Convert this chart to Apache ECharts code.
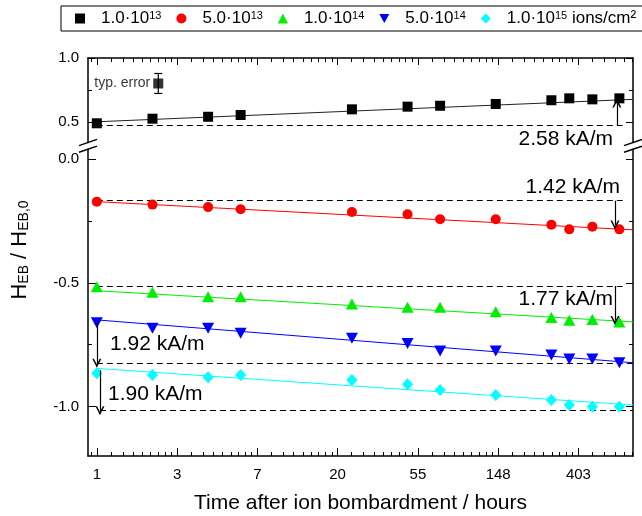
<!DOCTYPE html>
<html>
<head>
<meta charset="utf-8">
<script src="https://cdn.jsdelivr.net/npm/echarts@6/dist/echarts.min.js"></script>
<style>
html, body { margin: 0; padding: 0; background: #fff; }
#chart { width: 642px; height: 516px; }
</style>
</head>
<body>
<div id="chart"></div>
<script>
// measurement times (hours after ion bombardment)
var hours = [1, 2, 4, 6, 24, 48, 72, 144, 288, 360, 480, 672];

// H_EB / H_EB,0 for each fluence
var hEb1e13 = [0.490, 0.526, 0.541, 0.555, 0.599, 0.620, 0.627, 0.641, 0.670, 0.685, 0.677, 0.685];
var hEb5e13 = [-0.172, -0.184, -0.194, -0.203, -0.214, -0.223, -0.243, -0.243, -0.265, -0.284, -0.273, -0.284];
var hEb1e14 = [-0.516, -0.538, -0.556, -0.556, -0.586, -0.599, -0.599, -0.617, -0.640, -0.651, -0.648, -0.658];
var hEb5e14 = [-0.661, -0.684, -0.684, -0.704, -0.724, -0.745, -0.776, -0.776, -0.792, -0.808, -0.808, -0.823];
var hEb1e15 = [-0.866, -0.873, -0.882, -0.873, -0.893, -0.910, -0.933, -0.953, -0.974, -0.994, -1.001, -1.001];

// fit lines (start / end)
var fitHours = [1, 796];
var fit1e13 = [0.502, 0.677];
var fit5e13 = [-0.172, -0.286];
var fit1e14 = [-0.532, -0.658];
var fit5e14 = [-0.650, -0.823];
var fit1e15 = [-0.846, -0.994];

// dashed reference levels and shift arrows
var refLevels = [0.477, -0.168, -0.513, -0.825, -1.017];
var refStartHours = [1, 1, 1, 1, 1.04];
var refEndHours = [700, 700, 700, 796, 796];
var arrowHours = [651, 636, 636, 1, 1.04];
var arrowFrom = [0.477, -0.168, -0.513, -0.663, -0.853];
var arrowTo = [0.648, -0.266, -0.652, -0.825, -1.017];
var shiftLabels = ['2.58 kA/m', '1.42 kA/m', '1.77 kA/m', '1.92 kA/m', '1.90 kA/m'];

// typical error
var typErrHours = 2.15;
var typErrValue = 0.801;
var typErrHalf = 0.078;

var seriesNames = ['1.0e13', '5.0e13', '1.0e14', '5.0e14', '1.0e15'];
var legendLabels = ['1.0·10{sup|13}', '5.0·10{sup|13}', '1.0·10{sup|14}', '5.0·10{sup|14}', '1.0·10{sup|15} ions/cm²'];
var colors = ['#000000', '#ff0000', '#00ee00', '#0000ff', '#00ffff'];
var symbols = ['rect', 'circle', 'triangle', 'path://M0,0L10,0L5,9Z', 'diamond'];
var symbolSizes = [10, 10, [12, 11], [12, 11], [11, 12]];

// x axis (natural log of hours)
var xTickLabels = ['1', '3', '7', '20', '55', '148', '403'];
var xMajor = [0, 1, 2, 3, 4, 5, 6];
var xMin = -0.11, xMax = 6.68;
var upperYMajor = [0.5, 1.0], upperYMinor = [0.75];
var lowerYMajor = [0, -0.5, -1.0], lowerYMinor = [-0.25, -0.75];

var FONT = '"Liberation Sans", Arial, sans-serif';

// origin-like minor ticks: 8 linear subdivisions between e^n and e^(n+1)
var xMinor = [];
for (var n = -1; n < 7; n++) {
    var a = Math.exp(n), b = Math.exp(n + 1);
    for (var k = 1; k < 9; k++) {
        var v = Math.log(a + k * (b - a) / 9);
        if (v > xMin && v < xMax) xMinor.push(v);
    }
}

function xAxisDef(grid, pos, ticks, len, main) {
    return {
        type: 'value', gridIndex: grid, position: pos, min: xMin, max: xMax,
        axisLine: { show: main, onZero: false, lineStyle: { color: '#000', width: 1.5 } },
        axisTick: { show: true, inside: true, length: len, customValues: ticks, lineStyle: { color: '#000', width: 1 } },
        axisLabel: { show: false },
        splitLine: { show: false }
    };
}

function yAxisDef(grid, pos, min, max, ticks, len, main, labels) {
    return {
        type: 'value', gridIndex: grid, position: pos, min: min, max: max,
        axisLine: { show: main, onZero: false, lineStyle: { color: '#000', width: 1.5 } },
        axisTick: { show: true, inside: true, length: len, customValues: ticks, lineStyle: { color: '#000', width: 1 } },
        axisLabel: labels ? {
            show: true, customValues: ticks, margin: 9, fontFamily: FONT, fontSize: 15, color: '#000',
            formatter: function (v) { return v.toFixed(1); }
        } : { show: false },
        splitLine: { show: false }
    };
}

var xAxes = [
    xAxisDef(0, 'top', xMajor, 7, true),
    xAxisDef(0, 'top', xMinor, 4, false),
    xAxisDef(1, 'bottom', xMajor, 8, true),
    xAxisDef(1, 'bottom', xMinor, 4, false)
];
xAxes[2].axisLabel = {
    show: true, customValues: xMajor, margin: 11, fontFamily: FONT, fontSize: 15, color: '#000',
    formatter: function (v) { return xTickLabels[Math.round(v)]; }
};
xAxes[2].name = 'Time after ion bombardment / hours';
xAxes[2].nameLocation = 'middle';
xAxes[2].nameGap = 37;
xAxes[2].nameTextStyle = { fontFamily: FONT, fontSize: 21, color: '#000' };

var yAxes = [
    yAxisDef(0, 'left', 0.34, 1.0, upperYMajor, 7, true, true),
    yAxisDef(0, 'left', 0.34, 1.0, upperYMinor, 4, false, false),
    yAxisDef(0, 'right', 0.34, 1.0, upperYMajor, 7, true, false),
    yAxisDef(0, 'right', 0.34, 1.0, upperYMinor, 4, false, false),
    yAxisDef(1, 'left', -1.2, 0.04, lowerYMajor, 8, true, true),
    yAxisDef(1, 'left', -1.2, 0.04, lowerYMinor, 4, false, false),
    yAxisDef(1, 'right', -1.2, 0.04, lowerYMajor, 7, true, false),
    yAxisDef(1, 'right', -1.2, 0.04, lowerYMinor, 4, false, false)
];

var allData = [hEb1e13, hEb5e13, hEb1e14, hEb5e14, hEb1e15];
var allFits = [fit1e13, fit5e13, fit1e14, fit5e14, fit1e15];
var series = [];

function axesFor(i) {
    return i === 0 ? { x: 0, y: 0 } : { x: 2, y: 4 };
}

// chevron arrow head pointing along the line
var arrowHead = 'path://M0,9L5,0L10,9L8.2,9L5,3.2L1.8,9Z';

allData.forEach(function (vals, i) {
    var ax = axesFor(i);
    series.push({
        name: seriesNames[i] + ' fit', type: 'line', xAxisIndex: ax.x, yAxisIndex: ax.y,
        data: fitHours.map(function (h, j) { return [Math.log(h), allFits[i][j]]; }),
        symbol: 'none', silent: true, z: 2,
        lineStyle: { color: colors[i] === '#000000' ? '#222' : colors[i], width: 1 }
    });
    series.push({
        name: 'ref' + i, type: 'lines', coordinateSystem: 'cartesian2d', xAxisIndex: ax.x, yAxisIndex: ax.y,
        data: [{ coords: [[Math.log(refStartHours[i]), refLevels[i]], [Math.log(refEndHours[i]), refLevels[i]]] }],
        lineStyle: { color: '#000', width: 1, type: [6, 4], opacity: 1 }, symbol: 'none', silent: true, z: 2
    });
    series.push({
        name: seriesNames[i], type: 'scatter', xAxisIndex: ax.x, yAxisIndex: ax.y,
        data: vals.map(function (v, j) { return [Math.log(hours[j]), v]; }),
        symbol: symbols[i], symbolSize: symbolSizes[i], z: 3,
        itemStyle: { color: colors[i], opacity: 1 }
    });
    series.push({
        name: 'arrow' + i, type: 'lines', coordinateSystem: 'cartesian2d', xAxisIndex: ax.x, yAxisIndex: ax.y,
        data: [{ coords: [[Math.log(arrowHours[i]), arrowFrom[i]], [Math.log(arrowHours[i]), arrowTo[i]]] }],
        lineStyle: { color: '#000', width: 1.2, opacity: 1 },
        symbol: ['none', arrowHead], symbolSize: [10, 9], silent: true, z: 5
    });
});

// typical error marker
series.push({
    name: 'typ', type: 'scatter', xAxisIndex: 0, yAxisIndex: 0,
    data: [[Math.log(typErrHours), typErrValue]],
    symbol: 'rect', symbolSize: 10, itemStyle: { color: '#000' }, z: 4,
    label: { show: true, position: 'left', distance: 3, formatter: 'typ. error', fontFamily: FONT, fontSize: 14, color: '#000' }
});
series.push({
    name: 'typErr', type: 'custom', xAxisIndex: 0, yAxisIndex: 0,
    data: [[Math.log(typErrHours), typErrValue - typErrHalf, typErrValue + typErrHalf]],
    renderItem: function (params, api) {
        var lo = api.coord([api.value(0), api.value(1)]);
        var hi = api.coord([api.value(0), api.value(2)]);
        var st = { stroke: '#000', lineWidth: 1.2 };
        return {
            type: 'group', children: [
                { type: 'line', shape: { x1: lo[0], y1: lo[1], x2: hi[0], y2: hi[1] }, style: st },
                { type: 'line', shape: { x1: lo[0] - 4, y1: lo[1], x2: lo[0] + 4, y2: lo[1] }, style: st },
                { type: 'line', shape: { x1: hi[0] - 4, y1: hi[1], x2: hi[0] + 4, y2: hi[1] }, style: st }
            ]
        };
    },
    z: 4
});

function shiftText(txt, x, y, align) {
    return {
        type: 'text', x: x, y: y, z: 10,
        style: { text: txt, fontFamily: FONT, fontSize: 21, fill: '#000', align: align, verticalAlign: 'middle' }
    };
}
function breakLine(x1, y1, x2, y2) {
    return { type: 'line', z: 10, shape: { x1: x1, y1: y1, x2: x2, y2: y2 }, style: { stroke: '#000', lineWidth: 1.5 } };
}

var option = {
    backgroundColor: '#fff',
    animation: false,
    grid: [
        { left: 88, right: 9, top: 58, height: 84.5, containLabel: false, outerBoundsMode: 'none' },
        { left: 88, right: 9, top: 149.2, bottom: 60, containLabel: false, outerBoundsMode: 'none' }
    ],
    legend: {
        left: 61, top: 6, width: 620,
        data: seriesNames,
        itemWidth: 10, itemHeight: 10, itemGap: 15,
        padding: [4, 8, 4, 14],
        borderColor: '#000', borderWidth: 1,
        formatter: function (name) { return legendLabels[seriesNames.indexOf(name)]; },
        textStyle: {
            fontFamily: FONT, fontSize: 17, color: '#000', padding: [0, 0, 0, 11],
            rich: { sup: { fontFamily: FONT, fontSize: 11, verticalAlign: 'top', color: '#000' } }
        }
    },
    xAxis: xAxes,
    yAxis: yAxes,
    series: series,
    graphic: [
        shiftText(shiftLabels[0], 613, 139.5, 'right'),
        shiftText(shiftLabels[1], 620, 187.5, 'right'),
        shiftText(shiftLabels[2], 613, 299.5, 'right'),
        shiftText(shiftLabels[3], 110, 344.5, 'left'),
        shiftText(shiftLabels[4], 108, 394.5, 'left'),
        breakLine(79, 145.6, 97, 139.4),
        breakLine(79, 152.3, 97, 146.1),
        breakLine(624, 145.6, 642, 139.4),
        breakLine(624, 152.3, 642, 146.1),
        {
            type: 'text', x: 20, y: 250, rotation: Math.PI / 2, z: 10,
            style: {
                text: '{m|H}{s|EB}{m| / H}{s|EB,0}', align: 'center', verticalAlign: 'middle', fill: '#000',
                rich: {
                    m: { fontFamily: FONT, fontSize: 22, fill: '#000' },
                    s: { fontFamily: FONT, fontSize: 14, fill: '#000', verticalAlign: 'bottom' }
                }
            }
        }
    ]
};

var chart = echarts.init(document.getElementById('chart'));
chart.setOption(option);
</script>
</body>
</html>
